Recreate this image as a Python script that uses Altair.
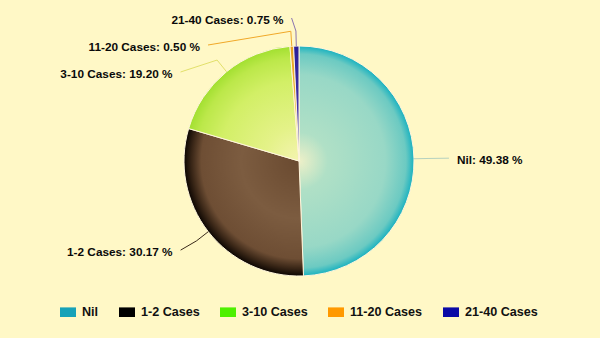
import math
import altair as alt
import pandas as pd

# ---------------- data ----------------
categories = ["Nil", "1-2 Cases", "3-10 Cases", "11-20 Cases", "21-40 Cases"]
percentages = [49.38, 30.17, 19.20, 0.50, 0.75]

# ---------------- styles ----------------
legend_colors = ["#17a2b8", "#000000", "#4ef000", "#ff9900", "#0a0aa6"]
connector_colors = ["#b6d2bf", "#3a2a1a", "#e2e06a", "#f0a828", "#8a74b0"]
slice_stops = [
    [(0.0, "#eef0c8"), (0.25, "#b0e0c6"), (0.75, "#98d8c6"), (0.93, "#6ccac2"), (1.0, "#1ab2c0")],
    [(0.0, "#6a4a30"), (0.5, "#7c5c40"), (0.85, "#6e4e34"), (0.93, "#3c2818"), (1.0, "#0c0602")],
    [(0.0, "#f4f4b0"), (0.3, "#e4f288"), (0.7, "#d2ef66"), (0.9, "#bce84a"), (1.0, "#a2e030")],
    [(0.0, "#f6d060"), (1.0, "#e8a020")],
    [(0.0, "#5a4ab4"), (1.0, "#2a1c98")],
]
BG = "#fff8c6"
W, H = 600, 338
CX, CY, R = 299, 161, 115
LABEL_DIST = 30
BREAK_DIST = 15
LABEL_MIN_Y = 18
LABEL_GAP = 27
FONT = "Liberation Sans"

# ---------------- derived geometry ----------------
starts, ends = [], []
acc = 0.0
for p in percentages:
    starts.append(acc)
    acc += p
    ends.append(acc)
total = acc


def frac_to_angle(f):
    return f / total * 2 * math.pi


def gradient_for(i):
    a0, a1 = frac_to_angle(starts[i]), frac_to_angle(ends[i])
    pts = [(0.0, 0.0), (math.sin(a0), -math.cos(a0)), (math.sin(a1), -math.cos(a1))]
    for k, (px, py) in enumerate([(0, -1), (1, 0), (0, 1), (-1, 0)]):
        ang = k * math.pi / 2
        if a0 <= ang <= a1 or a0 <= ang + 2 * math.pi <= a1:
            pts.append((px, py))
    xs = [p[0] for p in pts]
    ys = [p[1] for p in pts]
    x0, x1, y0, y1 = min(xs), max(xs), min(ys), max(ys)
    s = max(x1 - x0, y1 - y0)
    sx0 = (x0 + x1) / 2 - s / 2
    sy0 = (y0 + y1) / 2 - s / 2
    gx, gy, gr = (0 - sx0) / s, (0 - sy0) / s, 1 / s
    return {
        "gradient": "radial",
        "x1": gx, "y1": gy, "r1": 0,
        "x2": gx, "y2": gy, "r2": gr,
        "stops": [{"offset": o, "color": c} for o, c in slice_stops[i]],
    }


base_df = pd.DataFrame({"cat": categories, "pct": percentages, "start": starts, "end": ends})

# label layout (outside labels, de-overlapped on the left side)
rl = R + LABEL_DIST
items = []
for i, c in enumerate(categories):
    mid = frac_to_angle((starts[i] + ends[i]) / 2)
    items.append({
        "cat": c, "i": i, "mid": mid,
        "nx": CX + rl * math.sin(mid), "ny": CY - rl * math.cos(mid),
        "side": "right" if math.sin(mid) >= 0 else "left",
    })
prev = -1e9
for it in sorted([t for t in items if t["side"] == "left"], key=lambda t: t["ny"]):
    y = max(it["ny"], prev + LABEL_GAP, LABEL_MIN_Y)
    prev = y
    it["y"] = y
    if y - it["ny"] > 3:
        it["x"] = CX - math.sqrt(max(rl ** 2 - (y - CY) ** 2, 0))
    else:
        it["x"] = it["nx"]
for it in items:
    if it["side"] == "right":
        it["x"], it["y"] = it["nx"], it["ny"]

label_rows, conn_rows = [], []
for it in items:
    i = it["i"]
    sign = 1 if it["side"] == "right" else -1
    label_rows.append({
        "cat": it["cat"],
        "label": f"{it['cat']}: {percentages[i]:.2f} %",
        "lx": it["x"] + (13 if sign > 0 else -12),
        "ly": it["y"] + 2,
        "side": it["side"],
    })
    m = it["mid"]
    pts = [
        (it["x"] + 5 if sign > 0 else it["x"] - 4, it["y"]),
        (CX + (R + BREAK_DIST) * math.sin(m), CY - (R + BREAK_DIST) * math.cos(m)),
        (CX + R * math.sin(m), CY - R * math.cos(m)),
    ]
    for k, (px, py) in enumerate(pts):
        conn_rows.append({"cat": it["cat"], "idx": k, "px": px, "py": py})

label_df = pd.DataFrame(label_rows)
conn_df = pd.DataFrame(conn_rows)

# ---------------- layers ----------------
legend_layer = alt.Chart(base_df).mark_square(size=10).encode(
    x=alt.value(CX),
    y=alt.value(CY),
    fill=alt.Fill(
        "cat:N",
        scale=alt.Scale(domain=categories, range=legend_colors),
        legend=alt.Legend(
            orient="none", legendX=60, legendY=304, direction="horizontal",
            title=None, symbolType="M-1,-0.6H1V0.6H-1Z", symbolSize=256,
            symbolStrokeWidth=0, symbolOpacity=1,
            labelFont=FONT, labelFontSize=12.6, labelFontWeight="bold",
            labelColor="#111111", columnPadding=20, labelOffset=6,
        ),
    ),
)

theta_scale = alt.Scale(domain=[0, total])
arc_layers = []
for i, c in enumerate(categories):
    arc_layers.append(
        alt.Chart(base_df)
        .transform_filter(alt.datum.cat == c)
        .mark_arc(fill=gradient_for(i), stroke="#fff6dc", strokeWidth=1, outerRadius=R)
        .encode(
            theta=alt.Theta("start:Q", scale=theta_scale, stack=None),
            theta2="end:Q",
            x=alt.value(CX),
            y=alt.value(CY),
        )
    )

conn_layer = alt.Chart(conn_df).mark_line(strokeWidth=1).encode(
    x=alt.X("px:Q", scale=None, axis=None),
    y=alt.Y("py:Q", scale=None, axis=None),
    detail="cat:N",
    order="idx:Q",
    stroke=alt.Stroke("cat:N", scale=alt.Scale(domain=categories, range=connector_colors), legend=None),
)

text_layers = []
for side, align in [("left", "right"), ("right", "left")]:
    text_layers.append(
        alt.Chart(label_df)
        .transform_filter(alt.datum.side == side)
        .mark_text(align=align, baseline="middle", font=FONT, fontSize=11.8, fontWeight="bold", color="#0a0a0a")
        .encode(
            x=alt.X("lx:Q", scale=None, axis=None),
            y=alt.Y("ly:Q", scale=None, axis=None),
            text="label:N",
        )
    )

chart = (
    alt.layer(legend_layer, *arc_layers, conn_layer, *text_layers)
    .properties(width=W, height=H, autosize=alt.AutoSizeParams(type="none"), padding=0, background=BG)
    .configure_view(stroke=None)
)

chart.save("out.html", embed_options={"renderer": "svg", "actions": False})
